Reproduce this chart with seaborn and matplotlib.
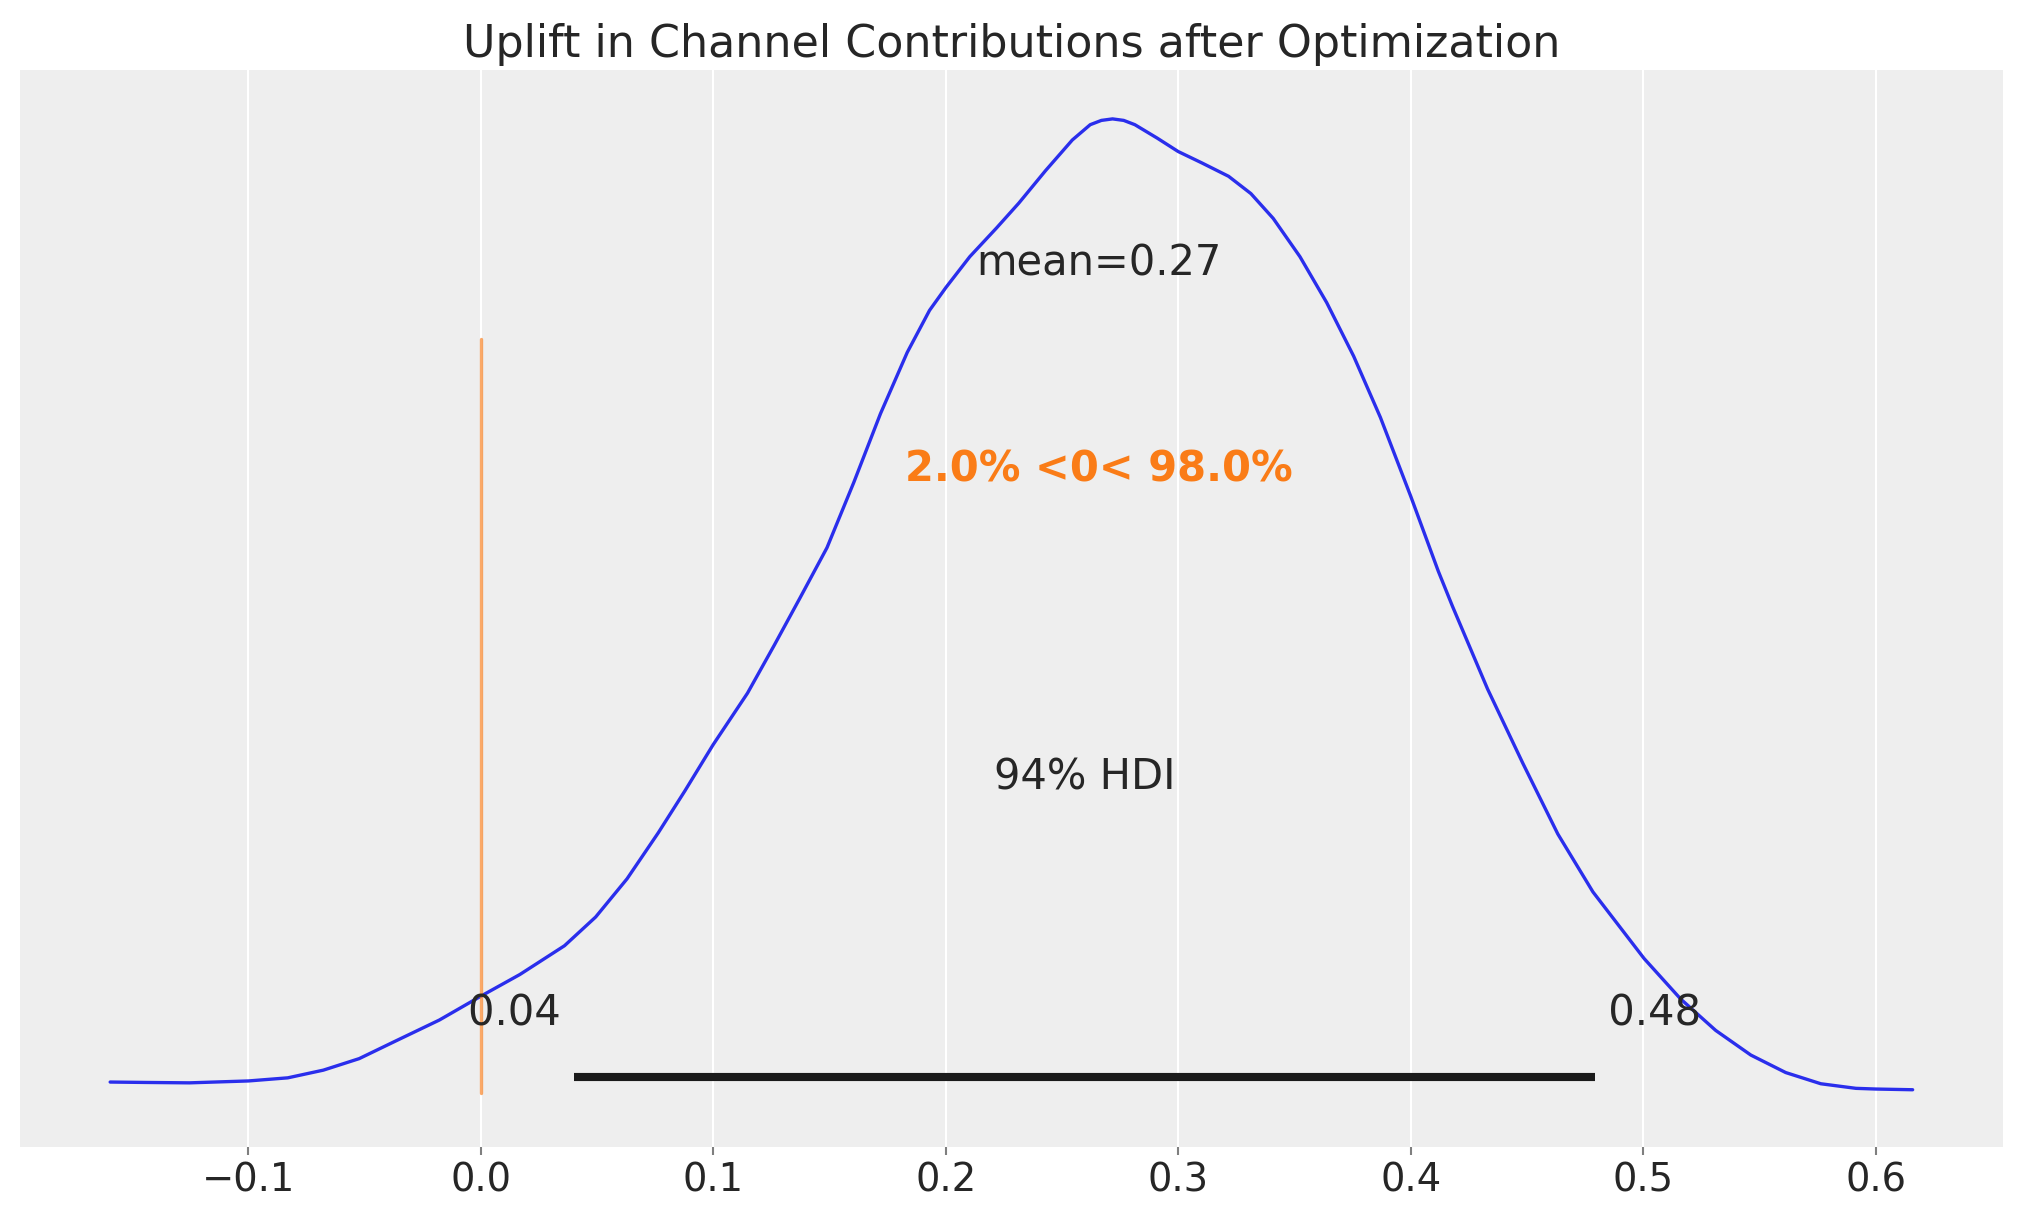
import matplotlib
matplotlib.use("Agg")
import matplotlib.pyplot as plt
import seaborn as sns
import numpy as np

# Densidad posterior (KDE)
x_vals = [-0.1594, -0.1445, -0.1253, -0.0999, -0.0830, -0.0677, -0.0523, -0.0370,
          -0.0178, 0.0, 0.0168, 0.0360, 0.0494, 0.0629, 0.0763, 0.0878, 0.0999,
          0.1147, 0.1262, 0.1373, 0.1489, 0.1604, 0.1719, 0.1834, 0.1930, 0.2001,
          0.2103, 0.2218, 0.2314, 0.2429, 0.2544, 0.2621, 0.2669, 0.2717, 0.2765,
          0.2813, 0.2909, 0.2999, 0.3101, 0.3216, 0.3312, 0.3408, 0.3523, 0.3638,
          0.3754, 0.3869, 0.3999, 0.4118, 0.4179, 0.4330, 0.4481, 0.4632, 0.4783,
          0.5003, 0.5160, 0.5311, 0.5462, 0.5612, 0.5763, 0.5914, 0.6000, 0.6158]
densidad = [0.0626, 0.0610, 0.0594, 0.0670, 0.0794, 0.1101, 0.1560, 0.2246,
            0.3100, 0.4050, 0.4915, 0.6063, 0.7208, 0.8732, 1.0563, 1.2242, 1.4077,
            1.6136, 1.8046, 1.9937, 2.1940, 2.4537, 2.7285, 2.9726, 3.1405, 3.2323,
            3.3544, 3.4689, 3.5682, 3.6978, 3.8199, 3.8809, 3.8980, 3.9040, 3.8980,
            3.8809, 3.8274, 3.7740, 3.7285, 3.6751, 3.6061, 3.5071, 3.3544, 3.1713,
            2.9575, 2.7133, 2.4000, 2.1000, 1.9600, 1.6300, 1.3350, 1.0519, 0.8209,
            0.5553, 0.3941, 0.2685, 0.1703, 0.1005, 0.0558, 0.0375, 0.0347, 0.0319]

media = 0.266
hdi = [0.0403, 0.4794]
ref_val = 0.0
pct_bajo, pct_alto = 2.0, 98.0
titulo = "Uplift in Channel Contributions after Optimization"

azul = "#2a2eec"
naranja = "#fa7c17"

sns.set_theme(style="darkgrid", rc={
    "axes.facecolor": "#eeeeee",
    "grid.color": "white",
    "text.color": "#262626",
    "xtick.color": "#262626",
})
plt.rcParams["font.family"] = ["DejaVu Sans"]

fig, ax = plt.subplots(figsize=(2023 / 150, 1223 / 150), dpi=150)

# Curva KDE
sns.lineplot(x=x_vals, y=densidad, ax=ax, color=azul, linewidth=1.6, sort=False)
ax.fill_between(x_vals, densidad, alpha=0)

plot_height = ax.get_ylim()[1]

# Línea HDI
ax.plot(hdi, [plot_height * 0.02] * 2, lw=3.9, color="k", solid_capstyle="butt")
ax.text(hdi[0], plot_height * 0.07, f"{hdi[0]:.2f} ", size=20, ha="right")
ax.text(hdi[1], plot_height * 0.07, f" {hdi[1]:.2f}", size=20, ha="left")
ax.text(sum(hdi) / 2, plot_height * 0.3, "94% HDI", size=20, ha="center")

# Media
ax.text(media, plot_height * 0.8, f"mean={media:.2f}", size=20, ha="center")

# Valor de referencia
ax.axvline(ref_val, ymin=0.05, ymax=0.75, lw=1.6, color=naranja, alpha=0.65)
ax.text(media, plot_height * 0.6, f"{pct_bajo:.1f}% <{ref_val:g}< {pct_alto:.1f}%",
        size=20, weight="semibold", ha="center", color=naranja)

ax.set_yticks([])
ax.set_xticks(np.arange(-0.1, 0.61, 0.1))
ax.tick_params(axis="x", labelsize=18.5, bottom=True, length=3.7, color="#7f7f7f", width=1)
ax.grid(axis="y", visible=False)
for s in ax.spines.values():
    s.set_visible(False)
ax.set_title(titulo, fontsize=21.3)

fig.subplots_adjust(left=0.0099, right=0.99, bottom=0.0624, top=0.9428)
fig.savefig("out.png", dpi=150)
